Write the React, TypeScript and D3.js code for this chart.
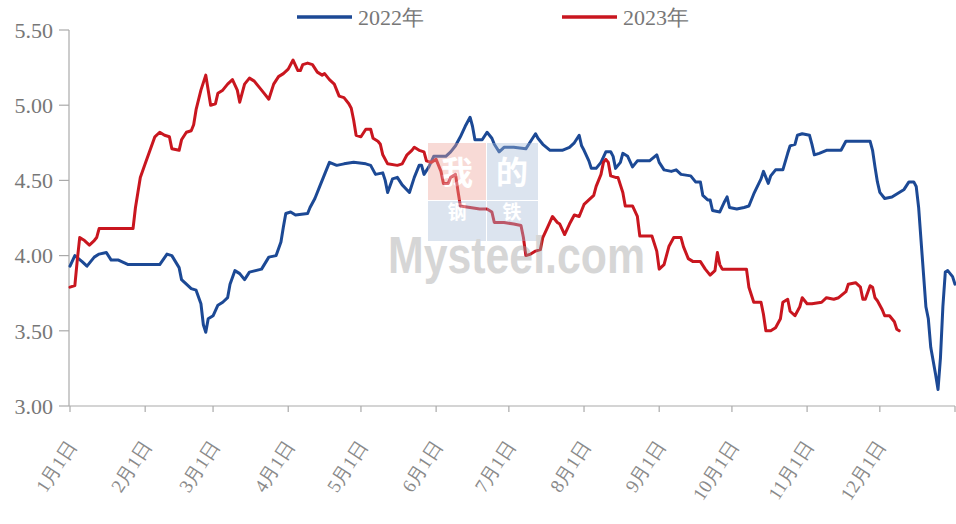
import React from "react";
import * as d3 from "d3";

// [day of year, price]
const DATA_2022: [number, number][] = [
  [0,3.93],[2,4.00],[5,3.96],[7,3.93],[10,3.99],[12,4.01],[15,4.02],[17,3.97],[20,3.97],[24,3.94],
  [31,3.94],[37,3.94],[40,4.01],[42,4.00],[45,3.92],[46,3.84],[48,3.81],[50,3.78],[52,3.77],[54,3.68],
  [55,3.54],[56,3.49],[57,3.58],[59,3.60],[61,3.67],[63,3.69],[65,3.72],[66,3.81],[68,3.90],[70,3.88],
  [72,3.84],[74,3.89],[79,3.91],[82,3.99],[85,4.00],[87,4.09],[88,4.19],[89,4.28],[91,4.29],[93,4.27],
  [98,4.28],[99,4.32],[101,4.38],[103,4.46],[105,4.54],[107,4.62],[110,4.60],[113,4.61],[117,4.62],[122,4.61],
  [124,4.60],[126,4.54],[129,4.55],[130,4.50],[131,4.42],[133,4.51],[135,4.52],[137,4.47],[140,4.42],[142,4.52],
  [144,4.60],[145,4.60],[146,4.54],[148,4.59],[150,4.66],[155,4.66],[157,4.69],[159,4.73],[161,4.79],[163,4.86],
  [165,4.92],[166,4.86],[167,4.77],[170,4.77],[172,4.82],[174,4.78],[175,4.74],[177,4.69],[179,4.72],[183,4.72],
  [188,4.71],[190,4.76],[192,4.81],[193,4.78],[195,4.74],[198,4.70],[203,4.70],[206,4.72],[208,4.75],[210,4.80],
  [211,4.73],[212,4.70],[214,4.63],[215,4.58],[217,4.58],[219,4.62],[221,4.69],[223,4.69],[224,4.66],[225,4.58],
  [227,4.62],[228,4.68],[230,4.66],[232,4.59],[234,4.63],[239,4.63],[242,4.67],[243,4.62],[245,4.57],[248,4.56],
  [250,4.57],[252,4.54],[256,4.53],[258,4.49],[260,4.49],[261,4.40],[263,4.37],[264,4.37],[265,4.30],[268,4.29],
  [270,4.36],[271,4.39],[272,4.32],[275,4.31],[278,4.32],[280,4.33],[282,4.41],[285,4.51],[286,4.56],[288,4.48],
  [289,4.53],[291,4.57],[294,4.57],[296,4.68],[297,4.73],[299,4.74],[300,4.80],[302,4.81],[305,4.80],[306,4.74],
  [307,4.67],[309,4.68],[312,4.70],[316,4.70],[318,4.70],[320,4.76],[330,4.76],[331,4.70],[332,4.59],[333,4.49],
  [334,4.42],[336,4.38],[339,4.39],[341,4.41],[344,4.44],[346,4.49],[348,4.49],[349,4.46],[350,4.32],[351,4.10],
  [352,3.88],[353,3.66],[354,3.58],[355,3.39],[357,3.21],[358,3.11],[359,3.32],[360,3.66],[361,3.89],[362,3.90],
  [364,3.86],[365,3.81],
];

const DATA_2023: [number, number][] = [
  [0,3.79],[2,3.80],[3,3.97],[4,4.12],[6,4.10],[8,4.07],[10,4.10],[11,4.12],[12,4.18],[26,4.18],
  [27,4.32],[28,4.42],[29,4.52],[31,4.61],[33,4.70],[35,4.79],[37,4.82],[39,4.80],[41,4.79],[42,4.71],
  [45,4.70],[46,4.77],[48,4.82],[50,4.83],[51,4.87],[52,4.97],[54,5.10],[56,5.20],[57,5.10],[58,5.00],
  [60,5.01],[61,5.08],[63,5.10],[65,5.14],[67,5.17],[69,5.10],[70,5.02],[72,5.14],[74,5.18],[76,5.16],
  [78,5.12],[80,5.08],[82,5.04],[84,5.14],[86,5.19],[88,5.21],[90,5.24],[92,5.30],[94,5.23],[95,5.23],
  [96,5.27],[98,5.28],[100,5.27],[102,5.22],[104,5.20],[105,5.21],[107,5.17],[109,5.14],[110,5.10],[111,5.06],
  [113,5.05],[115,5.01],[116,4.98],[117,4.90],[118,4.80],[120,4.79],[122,4.84],[124,4.84],[125,4.78],[127,4.76],
  [128,4.74],[129,4.67],[131,4.61],[135,4.60],[137,4.61],[139,4.67],[141,4.70],[142,4.72],[144,4.70],[146,4.69],
  [147,4.63],[149,4.62],[151,4.64],[153,4.56],[154,4.48],[156,4.48],[157,4.52],[159,4.54],[160,4.43],[161,4.33],
  [165,4.32],[169,4.31],[172,4.31],[174,4.29],[175,4.22],[179,4.22],[183,4.21],[186,4.20],[187,4.12],[188,4.00],
  [190,4.01],[192,4.03],[194,4.04],[195,4.12],[197,4.19],[199,4.26],[201,4.22],[202,4.21],[204,4.14],[206,4.21],
  [208,4.27],[210,4.26],[211,4.30],[212,4.34],[214,4.37],[216,4.40],[217,4.46],[219,4.54],[220,4.62],[221,4.64],
  [222,4.62],[223,4.53],[225,4.52],[226,4.52],[228,4.42],[229,4.33],[232,4.33],[234,4.26],[235,4.13],[240,4.13],
  [242,4.03],[243,3.91],[245,3.94],[247,4.06],[249,4.12],[252,4.12],[253,4.06],[255,3.98],[257,3.96],[260,3.96],
  [262,3.91],[264,3.87],[266,3.90],[267,4.02],[268,3.94],[269,3.91],[279,3.91],[280,3.79],[282,3.69],[285,3.69],
  [286,3.61],[287,3.50],[289,3.50],[291,3.52],[293,3.58],[294,3.69],[296,3.71],[297,3.63],[299,3.60],[301,3.66],
  [302,3.72],[304,3.68],[306,3.68],[310,3.69],[312,3.72],[315,3.71],[317,3.72],[320,3.76],[321,3.81],[324,3.82],
  [326,3.79],[327,3.71],[328,3.71],[330,3.80],[331,3.79],[332,3.72],[333,3.70],[335,3.64],[336,3.60],[338,3.60],
  [340,3.56],[341,3.51],[342,3.50],
];

const SERIES_NAMES = ["2022年", "2023年"];
const SERIES_COLORS = ["#1C4995", "#C9161F"];
const Y_TICKS = [3.0, 3.5, 4.0, 4.5, 5.0, 5.5];
const MONTH_LABELS = ["1月1日","2月1日","3月1日","4月1日","5月1日","6月1日","7月1日","8月1日","9月1日","10月1日","11月1日","12月1日"];
const LOGO_CHARS = ["我", "的", "钢", "铁"];

const W = 956, H = 524;
const BASE = new Date(2022, 0, 1);
const END = new Date(2023, 0, 1);
const FONT = "'Liberation Serif', 'Times New Roman', serif";

export default function App() {
  const x = d3.scaleTime().domain([BASE, END]).range([70, 955]);
  const y = d3.scaleLinear().domain([3, 5.5]).range([406, 30]);
  const line = d3
    .line<[number, number]>()
    .x((d) => x(d3.timeDay.offset(BASE, d[0])))
    .y((d) => y(d[1]));
  const monthTicks = d3.timeMonth.range(BASE, END);
  const allTicks = [...monthTicks, END];
  const series = [DATA_2022, DATA_2023];
  const legendX = [297, 562];
  const logoCells = [
    { x: 428, y: 143, w: 58, h: 57, fill: "#eea49a", tx: 457, ty: 184, fs: 32 },
    { x: 487, y: 143, w: 51, h: 57, fill: "#a9bcd8", tx: 512, ty: 184, fs: 32 },
    { x: 428, y: 201, w: 58, h: 40, fill: "#a9bcd8", tx: 457, ty: 219, fs: 19 },
    { x: 487, y: 201, w: 51, h: 40, fill: "#a9bcd8", tx: 512, ty: 219, fs: 19 },
  ];

  return (
    <svg width={W} height={H} style={{ position: "absolute", left: 0, top: 0, background: "#fff" }}>
      <rect width={W} height={H} fill="#fff" />
      {/* axes */}
      <line x1={69} x2={69} y1={30} y2={406} stroke="#aaa" strokeWidth={1.2} />
      <line x1={69} x2={955} y1={406} y2={406} stroke="#aaa" strokeWidth={1.2} />
      {Y_TICKS.map((t) => (
        <g key={t}>
          <line x1={59} x2={69} y1={y(t)} y2={y(t)} stroke="#aaa" strokeWidth={1.2} />
          <text x={53} y={y(t)} dy="0.35em" textAnchor="end" fontFamily={FONT} fontSize={22} fill="#777">
            {t.toFixed(2)}
          </text>
        </g>
      ))}
      {allTicks.map((d, i) => (
        <line key={i} x1={x(d)} x2={x(d)} y1={406} y2={412} stroke="#aaa" strokeWidth={1.2} />
      ))}
      {monthTicks.map((d, i) => (
        <text
          key={i}
          transform={`translate(${x(d) + 7},${446}) rotate(-57)`}
          textAnchor="end"
          fontFamily={FONT}
          fontSize={19}
          fill="#8a8a8a"
        >
          {MONTH_LABELS[i]}
        </text>
      ))}
      {/* lines */}
      {series.map((s, i) => (
        <path
          key={i}
          d={line(s) || ""}
          fill="none"
          stroke={SERIES_COLORS[i]}
          strokeWidth={3}
          strokeLinejoin="round"
          strokeLinecap="round"
        />
      ))}
      {/* watermark */}
      <g opacity={0.4}>
        {logoCells.map((c, i) => (
          <g key={i}>
            <rect x={c.x} y={c.y} width={c.w} height={c.h} fill={c.fill} />
            <text x={c.tx} y={c.ty} textAnchor="middle" fontSize={c.fs} fontWeight="bold" fill="#fff" fontFamily="'Noto Sans CJK SC'">
              {LOGO_CHARS[i]}
            </text>
          </g>
        ))}
        <text
          x={388}
          y={273}
          fontSize={52}
          fontWeight="bold"
          fill="#9a9a9a"
          fontFamily="'Liberation Sans', Arial, sans-serif"
          textLength={257}
          lengthAdjust="spacingAndGlyphs"
        >
          Mysteel.com
        </text>
      </g>
      {/* legend */}
      {SERIES_NAMES.map((n, i) => (
        <g key={n}>
          <line x1={legendX[i]} x2={legendX[i] + 55} y1={17} y2={17} stroke={SERIES_COLORS[i]} strokeWidth={3.5} />
          <text x={legendX[i] + 61} y={25} fontFamily={FONT} fontSize={22} fill="#777">
            {n}
          </text>
        </g>
      ))}
    </svg>
  );
}
